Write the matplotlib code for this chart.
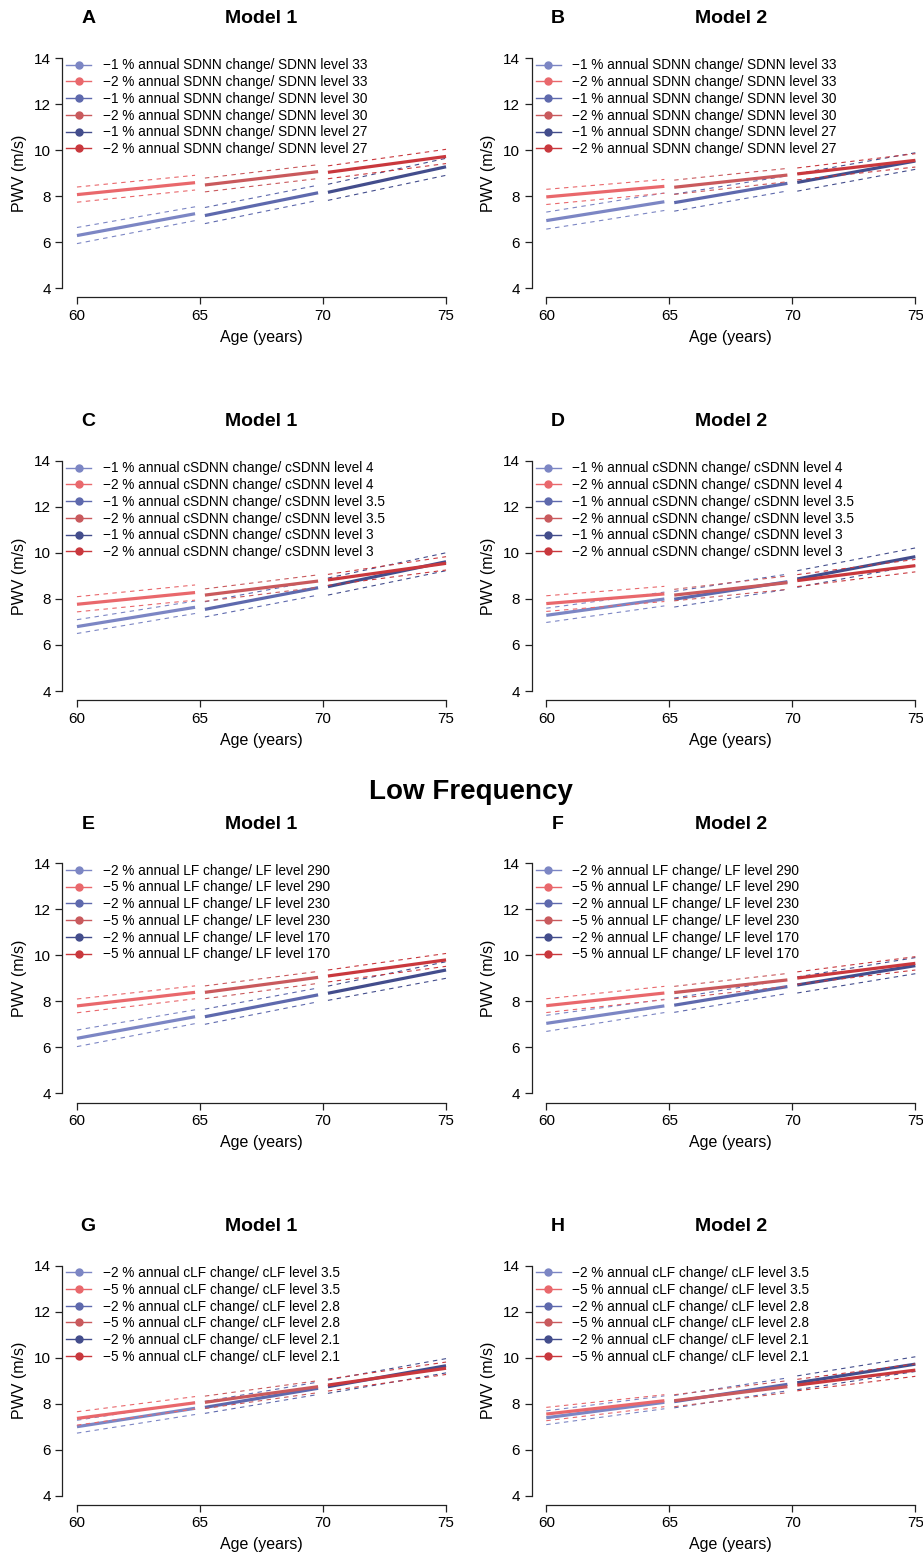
import matplotlib
matplotlib.use("Agg")
import matplotlib.pyplot as plt
from matplotlib.lines import Line2D

plt.rcParams['font.family'] = ['Liberation Sans', 'DejaVu Sans']

# age ranges of the three follow-up segments
seg_ages = [(60, 64.8), (65.2, 69.8), (70.2, 75)]

# fitted PWV at start/end of each segment (seg1 start, seg1 end, seg2 start, ...)
A_blue = [6.28, 7.23, 7.15, 8.14, 8.16, 9.27]
A_red = [8.06, 8.58, 8.48, 9.06, 9.03, 9.72]
A_blue_ci = [0.35, 0.30, 0.35, 0.33, 0.35, 0.37]
A_red_ci = [0.33, 0.32, 0.30, 0.30, 0.28, 0.31]

B_blue = [6.93, 7.75, 7.71, 8.55, 8.59, 9.52]
B_red = [7.96, 8.42, 8.38, 8.91, 8.96, 9.55]
B_blue_ci = [0.37, 0.38, 0.37, 0.33, 0.38, 0.36]
B_red_ci = [0.33, 0.30, 0.31, 0.29, 0.26, 0.29]

C_blue = [6.80, 7.64, 7.55, 8.49, 8.54, 9.62]
C_red = [7.77, 8.28, 8.17, 8.78, 8.83, 9.55]
C_blue_ci = [0.30, 0.27, 0.33, 0.32, 0.37, 0.39]
C_red_ci = [0.33, 0.33, 0.27, 0.27, 0.24, 0.29]

D_blue = [7.29, 8.00, 7.99, 8.75, 8.87, 9.84]
D_red = [7.80, 8.22, 8.17, 8.71, 8.80, 9.45]
D_blue_ci = [0.31, 0.30, 0.34, 0.33, 0.36, 0.38]
D_red_ci = [0.34, 0.33, 0.25, 0.29, 0.26, 0.27]

E_blue = [6.39, 7.33, 7.33, 8.28, 8.35, 9.36]
E_red = [7.80, 8.39, 8.39, 9.04, 9.10, 9.80]
E_blue_ci = [0.36, 0.30, 0.33, 0.30, 0.31, 0.36]
E_red_ci = [0.30, 0.28, 0.28, 0.26, 0.26, 0.28]

F_blue = [7.04, 7.80, 7.83, 8.64, 8.71, 9.55]
F_red = [7.81, 8.36, 8.38, 8.93, 9.01, 9.65]
F_blue_ci = [0.35, 0.29, 0.31, 0.30, 0.35, 0.35]
F_red_ci = [0.30, 0.29, 0.27, 0.28, 0.27, 0.29]

G_blue = [7.00, 7.80, 7.84, 8.67, 8.74, 9.65]
G_red = [7.36, 8.04, 8.06, 8.74, 8.81, 9.54]
G_blue_ci = [0.28, 0.27, 0.26, 0.27, 0.29, 0.31]
G_red_ci = [0.29, 0.27, 0.27, 0.26, 0.26, 0.27]

H_blue = [7.39, 8.06, 8.09, 8.84, 8.91, 9.72]
H_red = [7.55, 8.13, 8.13, 8.74, 8.81, 9.46]
H_blue_ci = [0.30, 0.28, 0.27, 0.28, 0.30, 0.32]
H_red_ci = [0.29, 0.26, 0.26, 0.26, 0.25, 0.27]

# legend text pieces
sdnn_labels = ["\u22121 % annual SDNN change/ SDNN level 33", "\u22122 % annual SDNN change/ SDNN level 33",
               "\u22121 % annual SDNN change/ SDNN level 30", "\u22122 % annual SDNN change/ SDNN level 30",
               "\u22121 % annual SDNN change/ SDNN level 27", "\u22122 % annual SDNN change/ SDNN level 27"]
csdnn_labels = ["\u22121 % annual cSDNN change/ cSDNN level 4", "\u22122 % annual cSDNN change/ cSDNN level 4",
                "\u22121 % annual cSDNN change/ cSDNN level 3.5", "\u22122 % annual cSDNN change/ cSDNN level 3.5",
                "\u22121 % annual cSDNN change/ cSDNN level 3", "\u22122 % annual cSDNN change/ cSDNN level 3"]
lf_labels = ["\u22122 % annual LF change/ LF level 290", "\u22125 % annual LF change/ LF level 290",
             "\u22122 % annual LF change/ LF level 230", "\u22125 % annual LF change/ LF level 230",
             "\u22122 % annual LF change/ LF level 170", "\u22125 % annual LF change/ LF level 170"]
clf_labels = ["\u22122 % annual cLF change/ cLF level 3.5", "\u22125 % annual cLF change/ cLF level 3.5",
              "\u22122 % annual cLF change/ cLF level 2.8", "\u22125 % annual cLF change/ cLF level 2.8",
              "\u22122 % annual cLF change/ cLF level 2.1", "\u22125 % annual cLF change/ cLF level 2.1"]

blues = ["#7c86c4", "#5e69ad", "#434d8c"]
reds = ["#e9686c", "#c95a5d", "#c9383d"]

panels = [
    ("A", "Model 1", A_blue, A_red, A_blue_ci, A_red_ci, sdnn_labels),
    ("B", "Model 2", B_blue, B_red, B_blue_ci, B_red_ci, sdnn_labels),
    ("C", "Model 1", C_blue, C_red, C_blue_ci, C_red_ci, csdnn_labels),
    ("D", "Model 2", D_blue, D_red, D_blue_ci, D_red_ci, csdnn_labels),
    ("E", "Model 1", E_blue, E_red, E_blue_ci, E_red_ci, lf_labels),
    ("F", "Model 2", F_blue, F_red, F_blue_ci, F_red_ci, lf_labels),
    ("G", "Model 1", G_blue, G_red, G_blue_ci, G_red_ci, clf_labels),
    ("H", "Model 2", H_blue, H_red, H_blue_ci, H_red_ci, clf_labels),
]

W, H = 923, 1555
fig = plt.figure(figsize=(W / 100, H / 100), dpi=100)

col_left = [62.2, 531.5]
row_top = [48.8, 451.8, 854.1, 1256.5]
ax_w, ax_h = 398.6, 248.4

for i, (letter, model, blue, red, blue_ci, red_ci, labels) in enumerate(panels):
    r, c = divmod(i, 2)
    ax = fig.add_axes([col_left[c] / W, 1 - (row_top[r] + ax_h) / H, ax_w / W, ax_h / H])
    for s, (a0, a1) in enumerate(seg_ages):
        for vals, ci, cols in ((blue, blue_ci, blues), (red, red_ci, reds)):
            y0, y1 = vals[2 * s], vals[2 * s + 1]
            h0, h1 = ci[2 * s], ci[2 * s + 1]
            ax.plot([a0, a1], [y0 + h0, y1 + h1], color=cols[s], lw=0.8, dashes=(4, 4))
            ax.plot([a0, a1], [y0 - h0, y1 - h1], color=cols[s], lw=0.8, dashes=(4, 4))
            ax.plot([a0, a1], [y0, y1], color=cols[s], lw=2.3, solid_capstyle='butt')

    ax.set_xlim(59.4, 75.6)
    ax.set_ylim(3.6, 14.4)
    ax.set_xticks([60, 65, 70, 75])
    ax.set_yticks([4, 6, 8, 10, 12, 14])
    for sp in ("top", "right"):
        ax.spines[sp].set_visible(False)
    ax.spines["left"].set_bounds(4, 14)
    ax.spines["bottom"].set_bounds(60, 75)
    for sp in ("left", "bottom"):
        ax.spines[sp].set_color("#222222")
        ax.spines[sp].set_linewidth(0.9)
    ax.tick_params(length=4.7, width=0.9, labelsize=11, pad=3.5, colors="#222222", labelcolor="black")
    ax.patch.set_visible(False)

    ax.text(0.5, -40 / ax_h, "Age (years)", transform=ax.transAxes, ha="center", va="center", fontsize=11.5)
    ax.text(-43 / ax_w, 0.5, "PWV (m/s)", transform=ax.transAxes, ha="center", va="center",
            rotation=90, fontsize=11.5)
    ax.text(26 / ax_w, 1 + 30 / ax_h, letter, transform=ax.transAxes, ha="center", va="center",
            fontsize=14, fontweight="bold")
    ax.text(0.5, 1 + 30 / ax_h, model, transform=ax.transAxes, ha="center", va="center",
            fontsize=14, fontweight="bold")

    handles = []
    for k in range(6):
        cols = blues if k % 2 == 0 else reds
        handles.append(Line2D([], [], color=cols[k // 2], lw=1, marker="o", markersize=5))
    ax.legend(handles, labels, loc="upper left", bbox_to_anchor=(0, 1 - 5.5 / ax_h), borderaxespad=0,
              frameon=False, fontsize=9.8, handlelength=1.85, handletextpad=0.85,
              labelspacing=0.2, borderpad=0.3)

fig.text(471 / W, 1 - 792 / H, "Low Frequency", ha="center", va="center", fontsize=20, fontweight="bold")

fig.savefig("out.png", dpi=100)
